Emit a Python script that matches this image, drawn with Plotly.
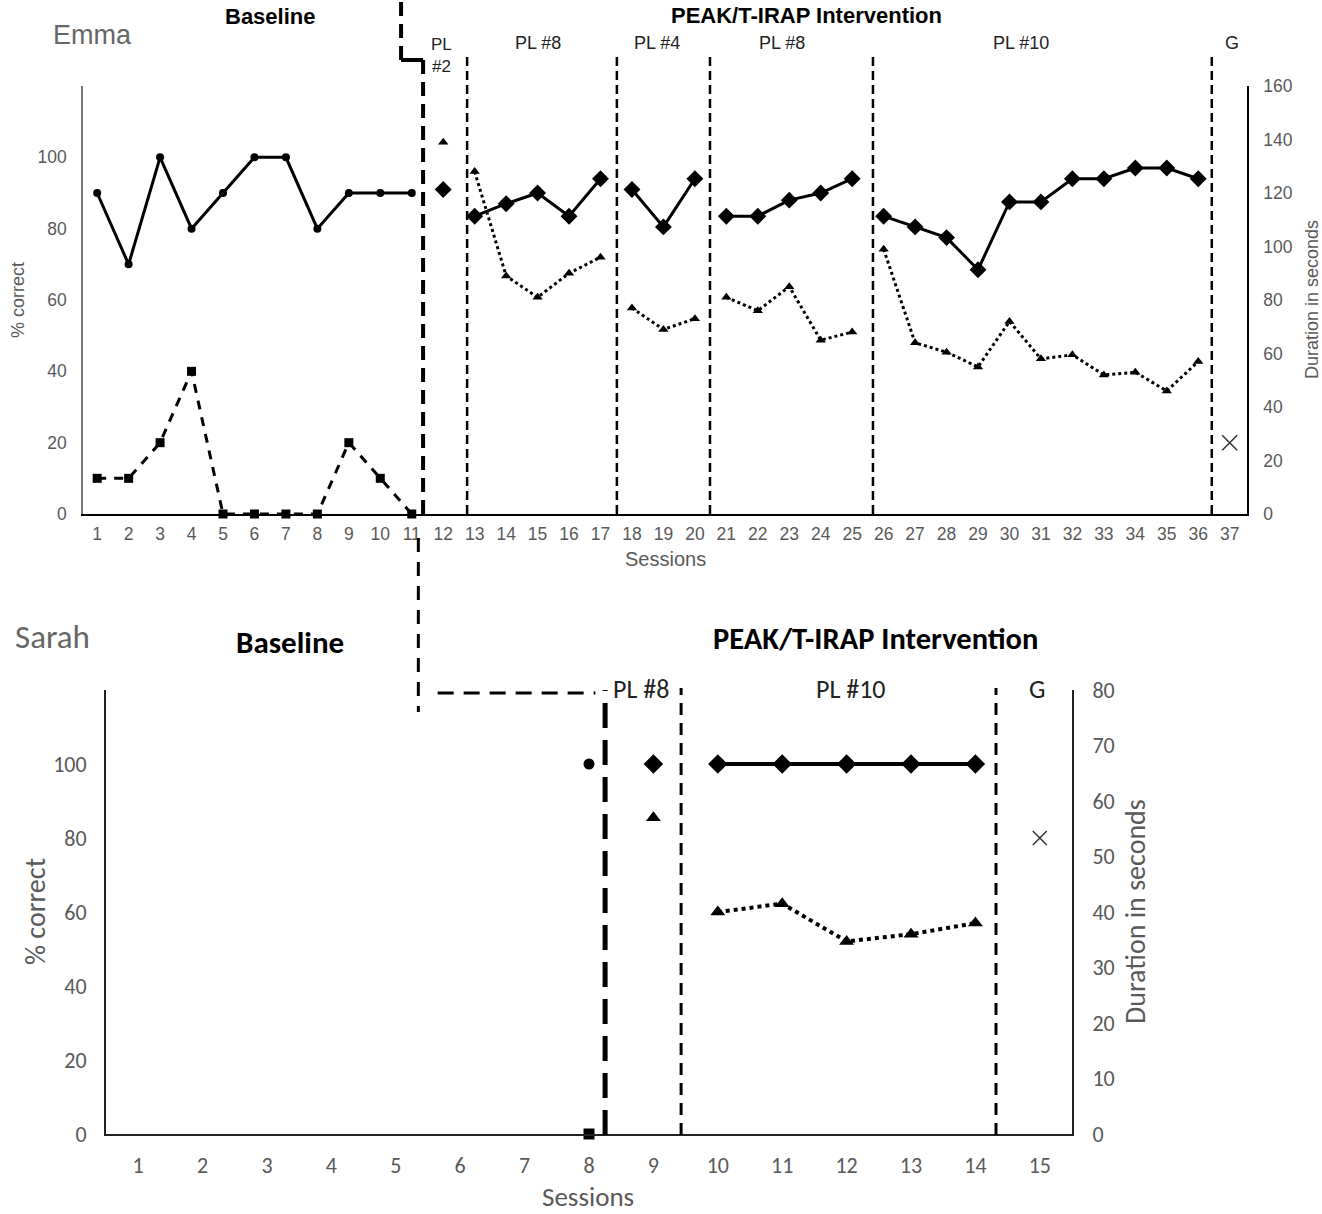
import plotly.graph_objects as go

W, H = 1322, 1214

# ---------------- DATA ----------------
# Emma
emma_sessions = list(range(1, 38))
emma_base_sessions = list(range(1, 12))
emma_base_correct = [90, 70, 100, 80, 90, 100, 100, 80, 90, 90, 90]
emma_base_square = [10, 10, 20, 40, 0, 0, 0, 0, 20, 10, 0]
emma_int_sessions = list(range(12, 37))
emma_int_correct = [91, 83.5, 87, 90, 83.5, 94, 91, 80.5, 94, 83.5, 83.5, 88, 90, 94,
                    83.5, 80.5, 77.5, 68.5, 87.5, 87.5, 94, 94, 97, 97, 94]
emma_int_duration = [139, 128, 89, 81, 90, 96, 77, 69, 73, 81, 76, 85, 65, 68,
                     99, 64, 60.5, 55, 72, 58, 59.5, 52, 53, 46, 57]
emma_phase_starts = [12, 13, 18, 21, 26]
emma_gen_session = [37]
emma_gen_value = [20]
emma_phase_lines = [12.76, 17.52, 20.48, 25.66, 36.43]
emma_phase_labels = ["PL<br>#2", "PL #8", "PL #4", "PL #8", "PL #10", "G"]
emma_label_x = [11.96, 15.0, 18.8, 22.77, 30.36, 37.07]

# Sarah
sarah_sessions = list(range(1, 16))
sarah_base_sessions = [8]
sarah_base_correct = [100]
sarah_base_square = [0]
sarah_int_sessions = [9, 10, 11, 12, 13, 14]
sarah_int_correct = [100, 100, 100, 100, 100, 100]
sarah_int_duration = [57, 40, 41.5, 34.7, 36, 38]
sarah_phase_starts = [9, 10]
sarah_gen_session = [15]
sarah_gen_value = [80]
sarah_phase_lines = [9.43, 14.32]
sarah_phase_labels = ["PL #8", "PL #10", "G"]
sarah_label_x = [8.8, 12.07, 14.96]


def split_phases(xs, ys, starts):
    ox, oy = [], []
    for x, y in zip(xs, ys):
        if x in starts and ox:
            ox.append(None)
            oy.append(None)
        ox.append(x)
        oy.append(y)
    return ox, oy


def px(x):
    return x / W


def py(y):
    return 1 - y / H


GRAY = "#595959"
TOPFONT = "Liberation Sans, Arial, sans-serif"
BOTFONT = "Carlito, Liberation Sans Narrow, Roboto, Arial, sans-serif"

fig = go.Figure()

# ---------------- EMMA traces ----------------
fig.add_trace(go.Scatter(x=emma_base_sessions, y=emma_base_correct, mode="lines+markers",
                         line=dict(color="black", width=3), cliponaxis=False,
                         marker=dict(symbol="circle", size=8, color="black"),
                         xaxis="x", yaxis="y"))
fig.add_trace(go.Scatter(x=emma_base_sessions, y=emma_base_square, mode="lines+markers",
                         line=dict(color="black", width=3, dash="9px,8px"), cliponaxis=False,
                         marker=dict(symbol="square", size=9, color="black"),
                         xaxis="x", yaxis="y"))
ex, ey = split_phases(emma_int_sessions, emma_int_correct, emma_phase_starts)
fig.add_trace(go.Scatter(x=ex, y=ey, mode="lines+markers", connectgaps=False,
                         line=dict(color="black", width=3), cliponaxis=False,
                         marker=dict(symbol="diamond", size=13, color="black"),
                         xaxis="x", yaxis="y"))
ex, ed = split_phases(emma_int_sessions, emma_int_duration, emma_phase_starts)
fig.add_trace(go.Scatter(x=ex, y=ed, mode="lines+markers", connectgaps=False,
                         line=dict(color="black", width=3, dash="dot"), cliponaxis=False,
                         marker=dict(symbol="triangle-up", size=9, color="black"),
                         xaxis="x", yaxis="y2"))
fig.add_trace(go.Scatter(x=emma_gen_session, y=emma_gen_value, mode="markers",
                         marker=dict(symbol="x-thin-open", size=15, color="#333",
                                     line=dict(color="#333", width=1.5)),
                         xaxis="x", yaxis="y"))

# ---------------- SARAH traces ----------------
fig.add_trace(go.Scatter(x=sarah_base_sessions, y=sarah_base_correct, mode="markers",
                         marker=dict(symbol="circle", size=11, color="black"), cliponaxis=False,
                         xaxis="x2", yaxis="y3"))
fig.add_trace(go.Scatter(x=sarah_base_sessions, y=sarah_base_square, mode="markers",
                         marker=dict(symbol="square", size=11, color="black"), cliponaxis=False,
                         xaxis="x2", yaxis="y3"))
sx, sy = split_phases(sarah_int_sessions, sarah_int_correct, sarah_phase_starts)
fig.add_trace(go.Scatter(x=sx, y=sy, mode="lines+markers", connectgaps=False,
                         line=dict(color="black", width=4), cliponaxis=False,
                         marker=dict(symbol="diamond", size=15, color="black"),
                         xaxis="x2", yaxis="y3"))
sx, sd = split_phases(sarah_int_sessions, sarah_int_duration, sarah_phase_starts)
fig.add_trace(go.Scatter(x=sx, y=sd, mode="lines+markers", connectgaps=False,
                         line=dict(color="black", width=4, dash="dot"), cliponaxis=False,
                         marker=dict(symbol="triangle-up", size=13, color="black"),
                         xaxis="x2", yaxis="y4"))
fig.add_trace(go.Scatter(x=sarah_gen_session, y=sarah_gen_value, mode="markers",
                         marker=dict(symbol="x-thin-open", size=14, color="#333",
                                     line=dict(color="#333", width=1.5)),
                         xaxis="x2", yaxis="y3"))

# ---------------- shapes ----------------
shapes = []
for xv in emma_phase_lines:
    shapes.append(dict(type="line", xref="x", yref="paper", x0=xv, x1=xv,
                       y0=py(514), y1=py(52),
                       line=dict(color="black", width=2.5, dash="9px,5px")))
thick_x = 11.36
step_x = 10.66
shapes.append(dict(type="line", xref="x", yref="paper", x0=thick_x, x1=thick_x,
                   y0=py(514), y1=py(60),
                   line=dict(color="black", width=4, dash="14px,8px")))
shapes.append(dict(type="line", xref="x", yref="paper", x0=step_x, x1=thick_x,
                   y0=py(60), y1=py(60), line=dict(color="black", width=4)))
shapes.append(dict(type="line", xref="x", yref="paper", x0=step_x, x1=step_x,
                   y0=py(60), y1=py(0),
                   line=dict(color="black", width=4, dash="14px,8px")))
conn_x = 5.35
sarah_thick = 8.25
shapes.append(dict(type="line", xref="x2", yref="paper", x0=conn_x, x1=conn_x,
                   y0=py(538), y1=py(712),
                   line=dict(color="black", width=3, dash="14px,10px")))
shapes.append(dict(type="line", xref="x2", yref="paper", x0=conn_x + 0.3, x1=sarah_thick - 0.15,
                   y0=py(693), y1=py(693),
                   line=dict(color="black", width=3, dash="16px,10px")))
shapes.append(dict(type="line", xref="x2", yref="paper", x0=sarah_thick, x1=sarah_thick,
                   y0=py(1135), y1=py(690),
                   line=dict(color="black", width=5, dash="25px,12px")))
for xv in sarah_phase_lines:
    shapes.append(dict(type="line", xref="x2", yref="paper", x0=xv, x1=xv,
                       y0=py(1135), y1=py(688),
                       line=dict(color="black", width=3, dash="12px,8px")))

# ---------------- annotations ----------------
ann = []


def A(text, x, y, size, color="black", bold=False, font=TOPFONT, angle=0, xref="paper"):
    t = f"<b>{text}</b>" if bold else text
    ann.append(dict(text=t, x=(x if xref != "paper" else px(x)), y=py(y), xref=xref, yref="paper",
                    showarrow=False, font=dict(size=size, color=color, family=font),
                    textangle=angle, xanchor="center", yanchor="middle"))


A("Emma", 93, 35, 27, "#666")
A("Baseline", 270, 17, 22, bold=True)
A("PEAK/T-IRAP Intervention", 806, 16, 22, bold=True)
for lab, lx in zip(emma_phase_labels, emma_label_x):
    if "<br>" in lab:
        ann.append(dict(text=lab, x=lx, y=py(55), xref="x", yref="paper", showarrow=False,
                        font=dict(size=17, color="#222", family=TOPFONT), yanchor="middle"))
    else:
        A(lab, lx, 43, 18, "#222", xref="x")
A("Sessions", 665, 559, 20, GRAY)
A("% correct", 18, 300, 18, GRAY, angle=-90)
A("Duration in seconds", 1312, 300, 18, GRAY, angle=-90)

A("Sarah", 52, 637, 33, "#666", font=BOTFONT)
A("Baseline", 290, 642, 31, bold=True, font=BOTFONT)
A("PEAK/T-IRAP Intervention", 875, 638, 30.5, bold=True, font=BOTFONT)
for lab, lx in zip(sarah_phase_labels, sarah_label_x):
    A(lab, lx, 689, 26, "#222", font=BOTFONT, xref="x2")
A("Sessions", 588, 1196, 27, GRAY, font=BOTFONT)
A("% correct", 35, 912, 28, GRAY, font=BOTFONT, angle=-90)
A("Duration in seconds", 1135, 912, 28, GRAY, font=BOTFONT, angle=-90)

fig.update_layout(
    autosize=True, margin=dict(l=0, r=0, t=0, b=0, autoexpand=False),
    paper_bgcolor="white", plot_bgcolor="rgba(0,0,0,0)",
    showlegend=False, shapes=shapes, annotations=ann,
    xaxis=dict(domain=[px(83), px(1247)], range=[0.55, 37.55], anchor="y",
               tickvals=emma_sessions, showline=True, linecolor="black", linewidth=1.5,
               showgrid=False, zeroline=False, ticks="",
               tickfont=dict(size=17.5, color=GRAY, family=TOPFONT), ticklabelstandoff=3),
    yaxis=dict(domain=[py(514), py(86)], range=[0, 120], anchor="x",
               tickvals=[0, 20, 40, 60, 80, 100], showline=True, linecolor="#777", linewidth=1.5,
               showgrid=False, zeroline=False, ticks="",
               tickfont=dict(size=17.5, color=GRAY, family=TOPFONT), ticklabelstandoff=11),
    yaxis2=dict(domain=[py(514), py(86)], range=[0, 160], anchor="x", overlaying="y", side="right",
                tickvals=[0, 20, 40, 60, 80, 100, 120, 140, 160], showline=True, linecolor="black",
                linewidth=1.5, showgrid=False, zeroline=False, ticks="",
                tickfont=dict(size=17.5, color=GRAY, family=TOPFONT), ticklabelstandoff=11),
    xaxis2=dict(domain=[px(106), px(1072)], range=[0.5, 15.5], anchor="y3",
                tickvals=sarah_sessions, showline=True, linecolor="#222", linewidth=2,
                showgrid=False, zeroline=False, ticks="",
                tickfont=dict(size=22, color=GRAY, family=BOTFONT), ticklabelstandoff=11),
    yaxis3=dict(domain=[py(1134), py(690)], range=[0, 120], anchor="x2",
                tickvals=[0, 20, 40, 60, 80, 100], showline=True, linecolor="#222", linewidth=2,
                showgrid=False, zeroline=False, ticks="",
                tickfont=dict(size=22, color=GRAY, family=BOTFONT), ticklabelstandoff=13),
    yaxis4=dict(domain=[py(1134), py(690)], range=[0, 80], anchor="x2", overlaying="y3", side="right",
                tickvals=[0, 10, 20, 30, 40, 50, 60, 70, 80], showline=True, linecolor="#222",
                linewidth=2, showgrid=False, zeroline=False, ticks="",
                tickfont=dict(size=22, color=GRAY, family=BOTFONT), ticklabelstandoff=14),
)

fig.write_html("out.html", default_width="100vw", default_height="100vh",
               config={"displayModeBar": False},
               post_script="document.body.style.margin='0';document.body.style.overflow='hidden';")
